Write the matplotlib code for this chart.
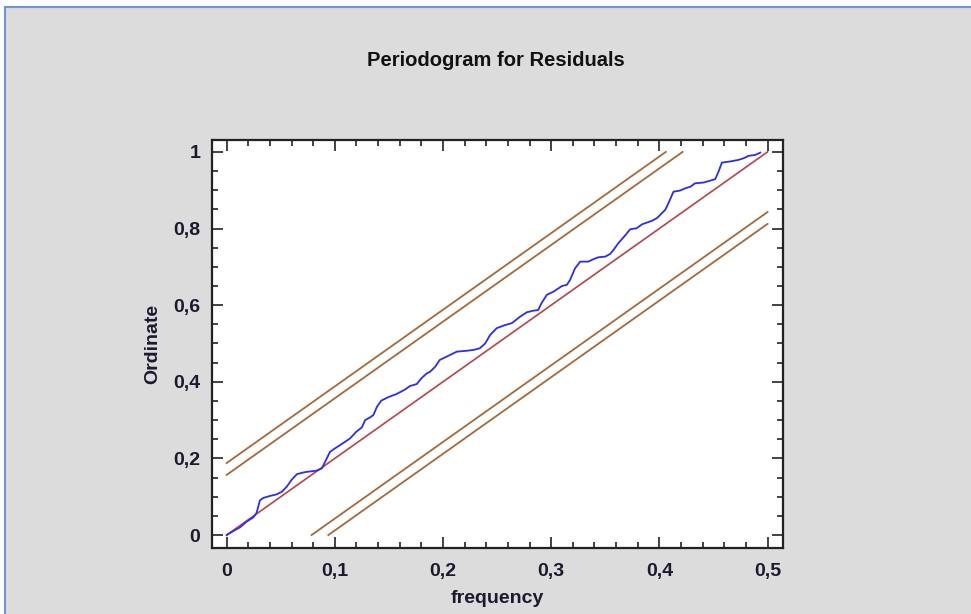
import matplotlib
matplotlib.use("Agg")
import matplotlib.pyplot as plt
from matplotlib.ticker import MultipleLocator, FuncFormatter
from matplotlib.patches import Rectangle
from matplotlib.lines import Line2D

# ---- data ----
frequency = [0, 0.0077, 0.0123, 0.0185, 0.0246, 0.0277, 0.0308, 0.034, 0.040, 0.046,
             0.051, 0.0555, 0.060, 0.065, 0.072, 0.077, 0.083, 0.088, 0.091, 0.0955,
             0.100, 0.105, 0.114, 0.120, 0.125, 0.128, 0.1325, 0.1356, 0.139, 0.143,
             0.1495, 0.157, 0.165, 0.1695, 0.1757, 0.180, 0.185, 0.188, 0.1927, 0.197,
             0.2065, 0.2127, 0.222, 0.228, 0.234, 0.239, 0.2435, 0.2497, 0.2574, 0.2636,
             0.2713, 0.2775, 0.2836, 0.288, 0.291, 0.296, 0.302, 0.310, 0.3145, 0.3175,
             0.322, 0.3268, 0.3344, 0.339, 0.3437, 0.350, 0.3545, 0.3576, 0.362, 0.368,
             0.373, 0.379, 0.384, 0.3885, 0.393, 0.3977, 0.4023, 0.4054, 0.4084, 0.413,
             0.419, 0.424, 0.4286, 0.433, 0.441, 0.447, 0.4516, 0.4547, 0.4578, 0.4655,
             0.473, 0.478, 0.4824, 0.4886, 0.4933]
cum_periodogram = [0, 0.013, 0.020, 0.035, 0.046, 0.058, 0.091, 0.097, 0.102, 0.106,
                   0.113, 0.126, 0.144, 0.159, 0.164, 0.166, 0.168, 0.174, 0.191, 0.217,
                   0.226, 0.235, 0.252, 0.270, 0.281, 0.300, 0.307, 0.313, 0.335, 0.351,
                   0.360, 0.368, 0.380, 0.389, 0.394, 0.409, 0.422, 0.426, 0.439, 0.457,
                   0.470, 0.4786, 0.481, 0.483, 0.4875, 0.500, 0.522, 0.540, 0.548, 0.553,
                   0.570, 0.5814, 0.5857, 0.587, 0.605, 0.627, 0.635, 0.650, 0.653, 0.666,
                   0.696, 0.7136, 0.7136, 0.720, 0.725, 0.7267, 0.7337, 0.744, 0.7615, 0.7807,
                   0.798, 0.8007, 0.811, 0.8155, 0.820, 0.827, 0.840, 0.8486, 0.866, 0.896,
                   0.899, 0.905, 0.909, 0.918, 0.920, 0.925, 0.9287, 0.9487, 0.972, 0.975,
                   0.979, 0.9835, 0.9896, 0.992, 0.998]
ref_x = [0, 0.5]
ref_y = [0, 1]
band_offsets = [0.157, 0.188]   # Kolmogorov-Smirnov bounds (two levels)

title = "Periodogram for Residuals"
xlabel = "frequency"
ylabel = "Ordinate"

# ---- style ----
families = ['Liberation Sans Narrow', 'Liberation Sans', 'DejaVu Sans']
plt.rcParams['font.family'] = families

W, H = 971, 614
fig = plt.figure(figsize=(W / 100, H / 100), dpi=100)
fig.patch.set_facecolor('white')
bg = '#DCDCDC'
fig.patches.append(Rectangle((5 / W, 0), 1, 1 - 7 / H, transform=fig.transFigure,
                             facecolor=bg, edgecolor='none', zorder=-10))
fig.lines.append(Line2D([5 / W, 1], [1 - 7 / H, 1 - 7 / H], transform=fig.transFigure,
                        color='#6E93D6', lw=1.5))
fig.lines.append(Line2D([5 / W, 5 / W], [0, 1 - 7 / H], transform=fig.transFigure,
                        color='#6E93D6', lw=1.5))

ax = fig.add_axes([211.5 / W, 1 - 547.7 / H, (782.7 - 211.5) / W, (547.7 - 140) / H])
ax.set_facecolor('white')

brown = '#A8683A'
for off in band_offsets:
    # upper and lower bands: y = 2x +/- off, clipped to [0,1]
    x0, x1 = 0.0, (1 - off) / 2
    ax.plot([x0, x1], [2 * x0 + off, 2 * x1 + off], color=brown, lw=1.3)
    x0, x1 = off / 2, 0.5
    ax.plot([x0, x1], [2 * x0 - off, 2 * x1 - off], color=brown, lw=1.3)

ax.plot(ref_x, ref_y, color='#C0404A', lw=1.2)
ax.plot(frequency, cum_periodogram, color='#2a2aff', lw=1.3)

ax.set_xlim(-0.014, 0.514)
ax.set_ylim(-0.033, 1.031)

ax.xaxis.set_major_locator(MultipleLocator(0.1))
ax.xaxis.set_minor_locator(MultipleLocator(0.02))
ax.yaxis.set_major_locator(MultipleLocator(0.2))
ax.yaxis.set_minor_locator(MultipleLocator(0.05))
fmt = FuncFormatter(lambda v, p: ('%g' % round(v, 3)).replace('.', ','))
ax.xaxis.set_major_formatter(fmt)
ax.yaxis.set_major_formatter(fmt)

ax.tick_params(which='both', direction='in', top=True, right=True, width=1.2, color='#222222')
ax.tick_params(which='major', length=8)
ax.tick_params(which='minor', length=4)
ax.tick_params(axis='x', which='major', pad=11)
ax.tick_params(axis='y', which='major', pad=8)
for lab in ax.get_xticklabels() + ax.get_yticklabels():
    lab.set_fontweight('bold')
    lab.set_fontsize(14)
    lab.set_color('#1a1a2e')
for s in ax.spines.values():
    s.set_linewidth(1.6)
    s.set_color('#222222')

ax.set_xlabel(xlabel, fontsize=14, fontweight='bold', labelpad=7, color='#1a1a2e')
ax.set_ylabel(ylabel, fontsize=14, fontweight='bold', labelpad=9, color='#1a1a2e')
fig.text(496 / W, 1 - 61 / H, title, ha='center', va='center', fontsize=14.5,
         fontweight='bold', color='#111111')

fig.savefig('out.png', dpi=100, facecolor=fig.get_facecolor())
